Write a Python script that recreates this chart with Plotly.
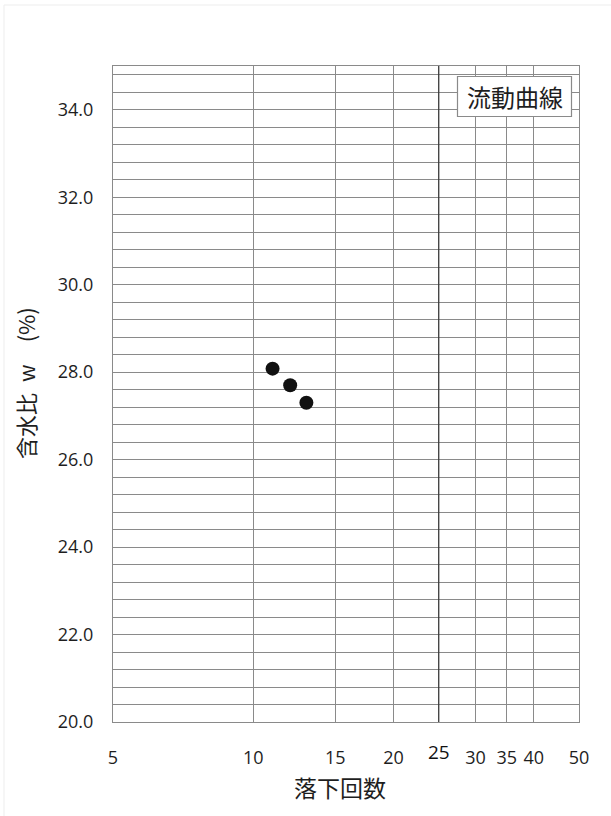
import math
import plotly.graph_objects as go

# Liquid limit test: number of blows vs. water content
blows = [11, 12, 13]
water_content = [28.08, 27.70, 27.30]

x_tick_values = [5, 10, 15, 20, 30, 35, 40, 50]
x_tick_text = ["5", "10", "15", "20", "30", "35", "40", "50"]
reference_blows = 25          # 25-blow reference line
y_tick_values = [20, 22, 24, 26, 28, 30, 32, 34]
y_tick_text = ["20.0", "22.0", "24.0", "26.0", "28.0", "30.0", "32.0", "34.0"]

x_range = [5, 50]
y_range = [20, 35]

W, H = 611, 816
L, R, T, B = 113, 32, 66, 94
PW, PH = W - L - R, H - T - B


def px_x(p):
    return (p - L) / PW


def px_y(p):
    return (H - B - p) / PH


GRID = "#8a8a8a"
TICK_FONT = dict(family="Open Sans, DejaVu Sans, sans-serif", size=18, color="#1e1e1e")
CJK = "Noto Sans CJK JP, Noto Sans CJK SC, sans-serif"

fig = go.Figure()

# reference line at 25 blows
fig.add_trace(go.Scatter(
    x=[reference_blows, reference_blows], y=y_range,
    mode="lines", line=dict(color="#3a3a3a", width=1.3),
    hoverinfo="skip", showlegend=False,
))

fig.add_trace(go.Scatter(
    x=blows, y=water_content, mode="markers",
    marker=dict(color="#111111", size=14, line=dict(width=0)),
    showlegend=False,
))

fig.update_xaxes(
    type="log",
    range=[math.log10(x_range[0]), math.log10(x_range[1])],
    tickvals=x_tick_values, ticktext=x_tick_text,
    tickfont=TICK_FONT, ticks="", ticklabelstandoff=19,
    showgrid=True, gridcolor=GRID, gridwidth=1,
    showline=True, linecolor=GRID, linewidth=1, mirror=True,
    zeroline=False,
)
fig.update_yaxes(
    range=y_range,
    tickvals=y_tick_values, ticktext=y_tick_text,
    tickfont=TICK_FONT, ticks="", ticklabelstandoff=15,
    showgrid=True, gridcolor=GRID, gridwidth=1,
    minor=dict(dtick=0.4, tick0=20, showgrid=True, gridcolor=GRID, gridwidth=1),
    showline=True, linecolor=GRID, linewidth=1, mirror=True,
    zeroline=False,
)

annotations = [
    # 25 label sits slightly higher than the other tick labels
    dict(x=math.log10(reference_blows), xref="x", y=px_y(751.5), yref="paper",
         text="25", showarrow=False, font=dict(family=TICK_FONT["family"], size=19, color="#111111"),
         xanchor="center", yanchor="middle"),
    dict(x=px_x(340), xref="paper", y=px_y(786.5), yref="paper",
         text="落下回数", showarrow=False, font=dict(family=CJK, size=23, color="#1e1e1e"),
         xanchor="center", yanchor="middle"),
    dict(x=px_x(25), xref="paper", y=px_y(383), yref="paper",
         text="含水比\u2002w\u3000(%)", showarrow=False, textangle=-90,
         font=dict(family=CJK, size=22, color="#1e1e1e"),
         xanchor="center", yanchor="middle"),
    dict(x=px_x(514.5), xref="paper", y=px_y(96.7), yref="paper",
         text="流動曲線", showarrow=False, font=dict(family=CJK, size=24, color="#1e1e1e"),
         xanchor="center", yanchor="middle"),
]

shapes = [
    dict(type="rect", xref="paper", yref="paper",
         x0=px_x(457.5), x1=px_x(571.5), y0=px_y(116.5), y1=px_y(76.5),
         line=dict(color="#8a8a8a", width=1.2), fillcolor="white", layer="above"),
    dict(type="rect", xref="paper", yref="paper",
         x0=px_x(4), x1=px_x(640), y0=px_y(840), y1=px_y(5),
         line=dict(color="#ededed", width=1), fillcolor="rgba(0,0,0,0)", layer="below"),
]

fig.update_layout(
    width=W, height=H,
    margin=dict(l=L, r=R, t=T, b=B),
    paper_bgcolor="white", plot_bgcolor="white",
    annotations=annotations, shapes=shapes,
    showlegend=False,
)

fig.write_html("out.html")
